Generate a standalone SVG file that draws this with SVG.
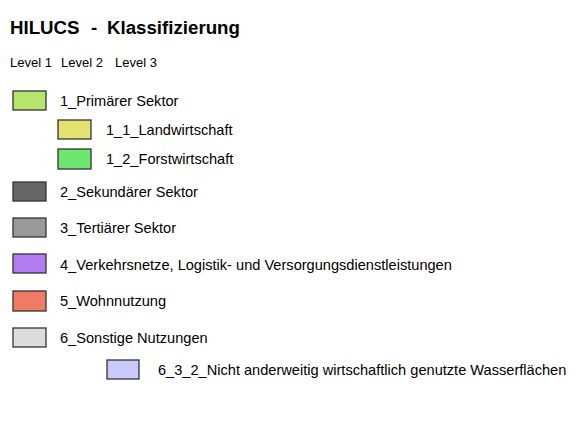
<svg xmlns="http://www.w3.org/2000/svg" width="575" height="438" viewBox="0 0 575 438">
<style>
text{font-family:"Liberation Sans",Arial,sans-serif;fill:#000}
.t{font-size:14.6px}
.h{font-size:18.7px;font-weight:bold}
.l{font-size:13px}
.b{stroke:#333;stroke-width:1.3}
</style>
<rect width="575" height="438" fill="#fff"/>
<text class="h" x="10" y="34">HILUCS</text>
<text class="h" x="91" y="34">-</text>
<text class="h" x="107" y="34">Klassifizierung</text>
<text class="l" x="10" y="67">Level 1</text>
<text class="l" x="61" y="67">Level 2</text>
<text class="l" x="115" y="67">Level 3</text>
<g id="n1"><rect class="b" x="13" y="91" width="33" height="19" fill="#b6e56b"/><text class="t" x="60" y="106">1_Primärer Sektor</text></g>
<g id="n11"><rect class="b" x="58" y="120" width="33" height="19" fill="#e4e26e"/><text class="t" x="106" y="135">1_1_Landwirtschaft</text></g>
<g id="n12"><rect class="b" x="58" y="149" width="33" height="20" fill="#6de56e"/><text class="t" x="106" y="164">1_2_Forstwirtschaft</text></g>
<g id="n2"><rect class="b" x="13" y="182" width="33" height="19" fill="#676767"/><text class="t" x="60" y="197">2_Sekundärer Sektor</text></g>
<g id="n3"><rect class="b" x="13" y="218" width="33" height="19" fill="#999999"/><text class="t" x="60" y="233">3_Tertiärer Sektor</text></g>
<g id="n4"><rect class="b" x="13" y="254" width="33" height="19" fill="#b07cf0"/><text class="t" x="60" y="270">4_Verkehrsnetze, Logistik- und Versorgungsdienstleistungen</text></g>
<g id="n5"><rect class="b" x="13" y="291" width="33" height="20" fill="#f07a66"/><text class="t" x="60" y="306">5_Wohnnutzung</text></g>
<g id="n6"><rect class="b" x="13" y="328" width="33" height="19" fill="#dcdcdc"/><text class="t" x="60" y="343">6_Sonstige Nutzungen</text></g>
<g id="n632"><rect class="b" x="107" y="360" width="32" height="19" fill="#c9c9fb"/><text class="t" x="158" y="375">6_3_2_Nicht anderweitig wirtschaftlich genutzte Wasserflächen</text></g>
<g id="connectors"></g>
</svg>
